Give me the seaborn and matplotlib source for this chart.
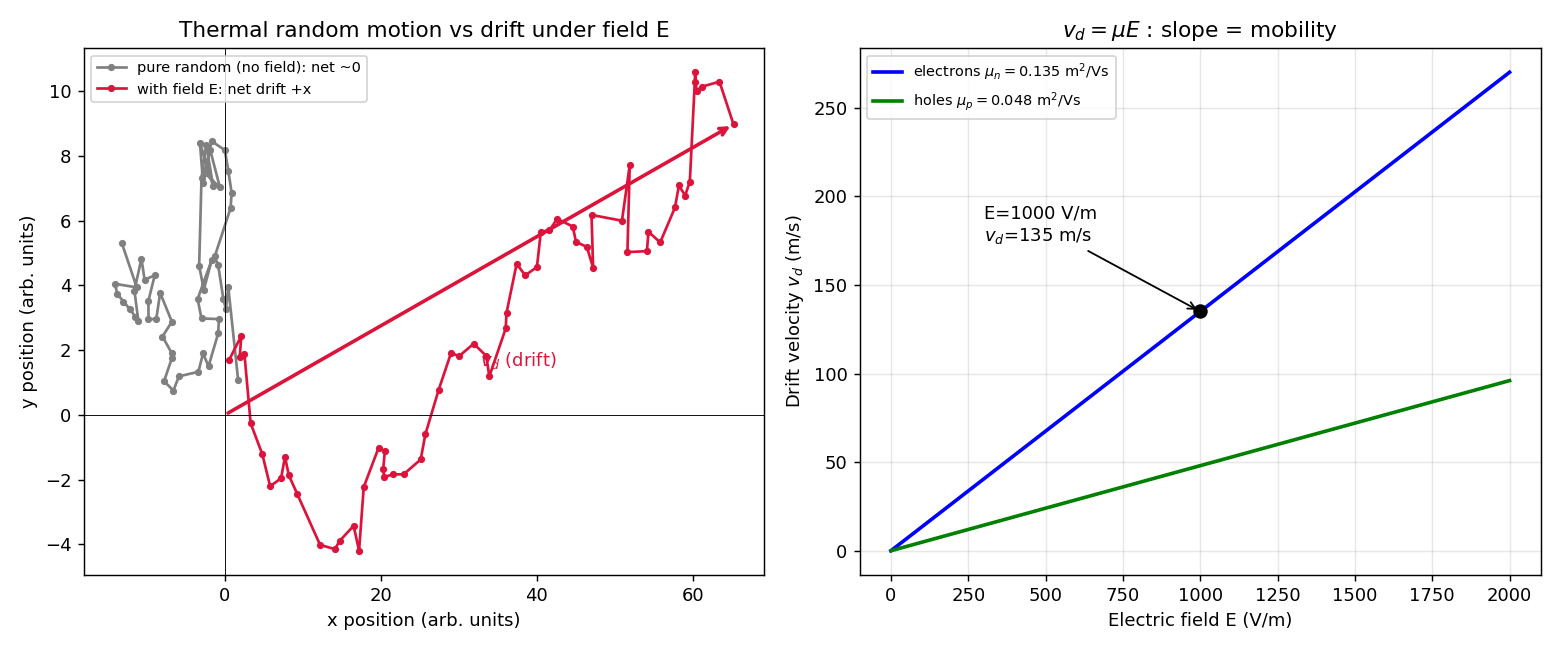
import numpy as np
import pandas as pd
import seaborn as sns
import matplotlib
matplotlib.use("Agg")
import matplotlib.pyplot as plt
from matplotlib.ticker import MultipleLocator

# random walk without field
rand_x = [1.7, 0.43, 0.13, -0.2, -0.86, -1.3, 0.73, 0.86, 0.43, 0.0,
          -1.7, -2.6, -0.64, -1.9, -2.8, -3.2, -1.5, -2.4, -3.0, -3.3,
          -2.7, -1.7, -3.5, -3.0, -0.77, -0.86, -2.1, -2.8, -3.4, -5.9,
          -6.6, -7.8, -6.8, -6.8, -8.0, -6.8, -8.3, -8.8, -9.8, -9.8,
          -9.0, -10.3, -10.7, -11.6, -11.1, -11.5, -12.2, -13.0, -13.8, -14.1,
          -11.3, -13.2]
rand_y = [1.07, 3.95, 3.27, 3.58, 4.62, 4.90, 6.39, 6.87, 7.55, 8.18,
          8.46, 7.48, 7.03, 8.20, 7.17, 8.41, 7.06, 8.35, 7.32, 4.60,
          3.87, 4.78, 3.58, 2.98, 2.96, 2.52, 1.50, 1.90, 1.33, 1.19,
          0.75, 1.04, 1.75, 1.90, 2.42, 2.88, 3.77, 2.96, 2.96, 3.53,
          4.31, 4.18, 4.83, 3.84, 2.91, 3.04, 3.27, 3.50, 3.74, 4.05,
          3.94, 5.30]

# random walk with field E (drift along +x)
drift_x = [0.55, 2.1, 1.9, 2.5, 3.3, 4.8, 5.8, 7.2, 7.7, 8.2,
           9.3, 12.2, 14.1, 14.7, 16.5, 17.2, 17.8, 19.7, 20.5, 20.3,
           20.4, 21.6, 22.9, 25.1, 25.7, 27.4, 29.0, 30.0, 31.9, 33.5,
           33.9, 36.0, 36.1, 37.4, 38.5, 40.0, 40.5, 41.6, 42.6, 44.6,
           45.0, 46.4, 47.2, 47.0, 50.9, 51.9, 51.6, 54.1, 54.3, 55.8,
           57.7, 58.2, 59.0, 59.6, 60.3, 60.3, 60.5, 61.1, 63.4, 65.2]
drift_y = [1.70, 2.44, 1.78, 1.89, -0.26, -1.22, -2.21, -1.96, -1.30, -1.87,
           -2.46, -4.02, -4.15, -3.90, -3.43, -4.20, -2.23, -1.02, -1.13, -1.66,
           -1.92, -1.84, -1.84, -1.38, -0.60, 0.77, 1.92, 1.81, 2.20, 1.82,
           1.19, 2.67, 3.15, 4.67, 4.31, 4.57, 5.66, 5.70, 6.06, 5.82,
           5.35, 5.19, 4.55, 6.18, 6.00, 7.73, 5.03, 5.06, 5.66, 5.33,
           6.41, 7.09, 6.78, 7.21, 10.59, 10.28, 10.02, 10.14, 10.30, 8.98]

# drift velocity vs field
E_field = [0, 500, 1000, 1500, 2000]
v_electrons = [0, 67.5, 135, 202.5, 270]
v_holes = [0, 24, 48, 72, 96]
mu_n = 0.135
mu_p = 0.048
E_mark = 1000
v_mark = 135

fig, (ax1, ax2) = plt.subplots(1, 2, figsize=(12, 5), dpi=130)

# left panel: random walks (estimator=None so repeated x values are not averaged)
sns.lineplot(x=rand_x, y=rand_y, sort=False, estimator=None, errorbar=None, ax=ax1,
             color='gray', marker='o', markersize=4, markeredgewidth=0, lw=1.5,
             label='pure random (no field): net ~0')
sns.lineplot(x=drift_x, y=drift_y, sort=False, estimator=None, errorbar=None, ax=ax1,
             color='crimson', marker='o', markersize=4, markeredgewidth=0, lw=1.5,
             label='with field E: net drift +x')
ax1.annotate('', xy=(drift_x[-1], drift_y[-1]), xytext=(0, 0),
             arrowprops=dict(arrowstyle='->', color='crimson', lw=2))
ax1.text(32.7, 1.5, r'$v_d$ (drift)', color='crimson', fontsize=10)
ax1.axhline(0, color='black', lw=0.5)
ax1.axvline(0, color='black', lw=0.5)
ax1.xaxis.set_major_locator(MultipleLocator(20))
ax1.set_title('Thermal random motion vs drift under field E')
ax1.set_xlabel('x position (arb. units)')
ax1.set_ylabel('y position (arb. units)')
ax1.legend(loc='upper left', fontsize=8)

# right panel: v_d = mu E
sns.lineplot(x=E_field, y=v_electrons, ax=ax2, color='blue', lw=2,
             label=r'electrons $\mu_n = $' + f'{mu_n}' + r' m$^2$/Vs')
sns.lineplot(x=E_field, y=v_holes, ax=ax2, color='green', lw=2,
             label=r'holes $\mu_p = $' + f'{mu_p}' + r' m$^2$/Vs')
ax2.plot([E_mark], [v_mark], 'ko', markersize=7)
ax2.annotate(f'E={E_mark} V/m\n$v_d$={v_mark} m/s', xy=(E_mark, v_mark),
             xytext=(300, 175), arrowprops=dict(arrowstyle='->', color='black'))
ax2.set_title(r'$v_d = \mu E$ : slope = mobility')
ax2.set_xlabel('Electric field E (V/m)')
ax2.set_ylabel(r'Drift velocity $v_d$ (m/s)')
ax2.grid(True, alpha=0.3)
ax2.legend(loc='upper left', fontsize=8)

plt.tight_layout()
plt.savefig('out.png')
